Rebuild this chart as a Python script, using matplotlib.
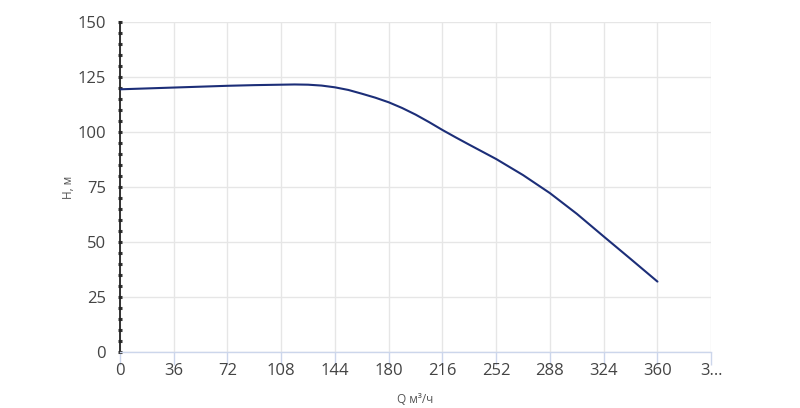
import matplotlib
matplotlib.use("Agg")
import matplotlib.pyplot as plt
from matplotlib.ticker import MultipleLocator, FixedLocator, FixedFormatter

# Data
q_values = [0, 18, 36, 54, 72, 90, 108, 117, 126, 135, 144, 153, 162, 171,
            180, 189, 198, 207, 216, 225, 234, 252, 270, 288, 306, 324, 342, 360]
h_values = [119.4, 119.8, 120.2, 120.6, 121.0, 121.3, 121.5, 121.6, 121.5,
            121.1, 120.3, 119.1, 117.4, 115.6, 113.5, 110.9, 107.9, 104.5,
            100.9, 97.5, 94.2, 87.7, 80.4, 72.2, 62.8, 52.5, 42.3, 32.0]
x_ticks = [0, 36, 72, 108, 144, 180, 216, 252, 288, 324, 360, 396]
x_tick_labels = ["0", "36", "72", "108", "144", "180", "216", "252", "288",
                 "324", "360", "3…"]
y_ticks = [0, 25, 50, 75, 100, 125, 150]
x_label = "Q м³/ч"
y_label = "H, м"

plt.rcParams['font.family'] = ['Open Sans', 'DejaVu Sans']

fig = plt.figure(figsize=(8, 4.08), dpi=100)
ax = fig.add_axes([0.15, 0.1373, 0.739, 0.8088])

ax.plot(q_values, h_values, color='#1c2e78', linewidth=1.5,
        solid_capstyle='round', solid_joinstyle='round', zorder=3)

ax.set_xlim(0, 396)
ax.set_ylim(0, 150)

ax.xaxis.set_major_locator(FixedLocator(x_ticks))
ax.xaxis.set_major_formatter(FixedFormatter(x_tick_labels))
ax.yaxis.set_major_locator(FixedLocator(y_ticks))
ax.yaxis.set_minor_locator(MultipleLocator(5))

ax.grid(True, which='major', color='#e6e6e6', linewidth=1)
ax.set_axisbelow(True)

for s in ['top', 'right']:
    ax.spines[s].set_visible(False)
ax.spines['bottom'].set_color('#ccd6eb')
ax.spines['bottom'].set_linewidth(1)
ax.spines['left'].set_color('#222222')
ax.spines['left'].set_linewidth(1.3)

ax.tick_params(axis='x', which='major', length=9, width=1, color='#ccd6eb',
               labelsize=12, labelcolor='#444444', pad=-1)
ax.tick_params(axis='y', which='both', length=2.2, width=2.2, direction='inout',
               color='#333333', labelsize=12, labelcolor='#444444', pad=9)

ax.set_xlabel(x_label, fontsize=8.5, color='#555555', labelpad=10)
ax.set_ylabel(y_label, fontsize=8.5, color='#555555', labelpad=2)

fig.savefig("out.png", dpi=100)
